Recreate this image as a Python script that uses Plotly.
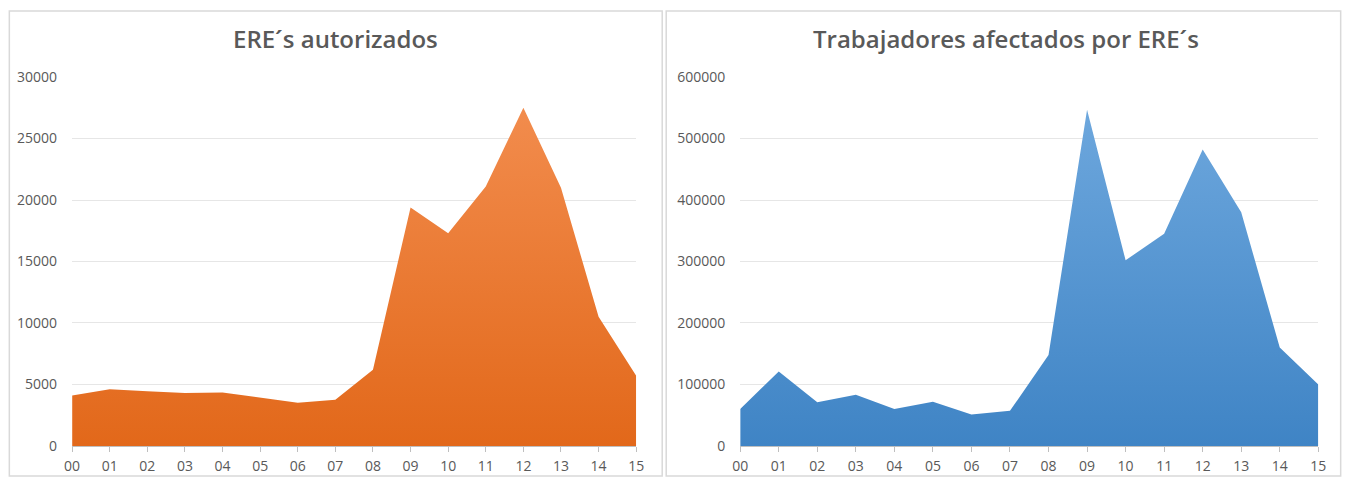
import plotly.graph_objects as go

W, H = 1350, 486

ANIOS = ["00", "01", "02", "03", "04", "05", "06", "07",
         "08", "09", "10", "11", "12", "13", "14", "15"]

ERES = [4100, 4600, 4450, 4300, 4350, 3950, 3500, 3750,
        6200, 19400, 17300, 21100, 27500, 21000, 10500, 5700]

TRABAJADORES = [60000, 121000, 71000, 83000, 60000, 72000, 51000, 57000,
                148000, 547000, 302000, 345000, 482000, 380000, 160000, 100000]

TITULOS = ["ERE´s autorizados", "Trabajadores afectados por ERE´s"]

NARANJA = ["#E2681A", "#F28C4D"]
AZUL = ["#3F84C5", "#6DA7DD"]

GRIS_TXT = "#595959"
GRIS_GRID = "#E6E6E6"
FUENTE = "Open Sans"

# la captura deja la figura algo reducida y desplazada: se compensa aqui
OFF_X, ESC_X = 7.9, 0.988
OFF_Y, ESC_Y = 8.7, 0.964


def px_x(p):
    v = (p - OFF_X) / ESC_X / W
    return min(max(v, 0.001), 0.999)


def px_y(p):
    v = 1 - (p - OFF_Y) / ESC_Y / H
    return min(max(v, 0.002), 0.998)


fig = go.Figure()

fig.add_trace(go.Scatter(
    x=ANIOS, y=ERES, mode="lines", line=dict(width=0),
    fill="tozeroy",
    fillgradient=dict(type="vertical", colorscale=[[0, NARANJA[0]], [1, NARANJA[1]]]),
    xaxis="x", yaxis="y", hoverinfo="x+y",
))

fig.add_trace(go.Scatter(
    x=ANIOS, y=TRABAJADORES, mode="lines", line=dict(width=0),
    fill="tozeroy",
    fillgradient=dict(type="vertical", colorscale=[[0, AZUL[0]], [1, AZUL[1]]]),
    xaxis="x2", yaxis="y2", hoverinfo="x+y",
))

eje_x = dict(
    type="category", range=[0, 15],
    showgrid=False, showline=True, linecolor="#BFBFBF", linewidth=1,
    ticks="outside", ticklen=5, tickcolor="#BFBFBF",
    tickfont=dict(family=FUENTE, size=14, color=GRIS_TXT),
    ticklabelstandoff=2, fixedrange=True,
)
eje_y = dict(
    showgrid=True, gridcolor=GRIS_GRID, gridwidth=1,
    zeroline=False, showline=False, ticks="",
    tickformat="d",
    tickfont=dict(family=FUENTE, size=14, color=GRIS_TXT),
    ticklabelstandoff=14, fixedrange=True,
)

dom_y = [px_y(446), px_y(76)]

fig.update_layout(
    width=W, height=H,
    margin=dict(l=0, r=0, t=0, b=0),
    paper_bgcolor="white", plot_bgcolor="white",
    showlegend=False,
    xaxis=dict(eje_x, domain=[px_x(72), px_x(636)], anchor="y"),
    yaxis=dict(eje_y, domain=dom_y, range=[0, 30000], dtick=5000, anchor="x"),
    xaxis2=dict(eje_x, domain=[px_x(740), px_x(1318)], anchor="y2"),
    yaxis2=dict(eje_y, domain=dom_y, range=[0, 600000], dtick=100000, anchor="x2"),
)

# marcos de cada panel
for x0, x1 in [(6, 662), (666, 1345)]:
    fig.add_shape(
        type="rect", xref="paper", yref="paper",
        x0=px_x(x0), x1=px_x(x1), y0=px_y(482), y1=px_y(6),
        line=dict(color="#D9D9D9", width=1.5), fillcolor="rgba(0,0,0,0)",
        layer="below",
    )

# titulos
for texto, cx in zip(TITULOS, [335, 1006]):
    fig.add_annotation(
        text=texto, xref="paper", yref="paper",
        x=px_x(cx), y=px_y(37), xanchor="center", yanchor="middle",
        showarrow=False,
        font=dict(family=FUENTE, size=24, color=GRIS_TXT, weight=600),
    )

fig.write_html(
    "out.html",
    config={"displayModeBar": False},
    post_script="document.body.style.margin='0';document.body.style.overflow='hidden';",
)
